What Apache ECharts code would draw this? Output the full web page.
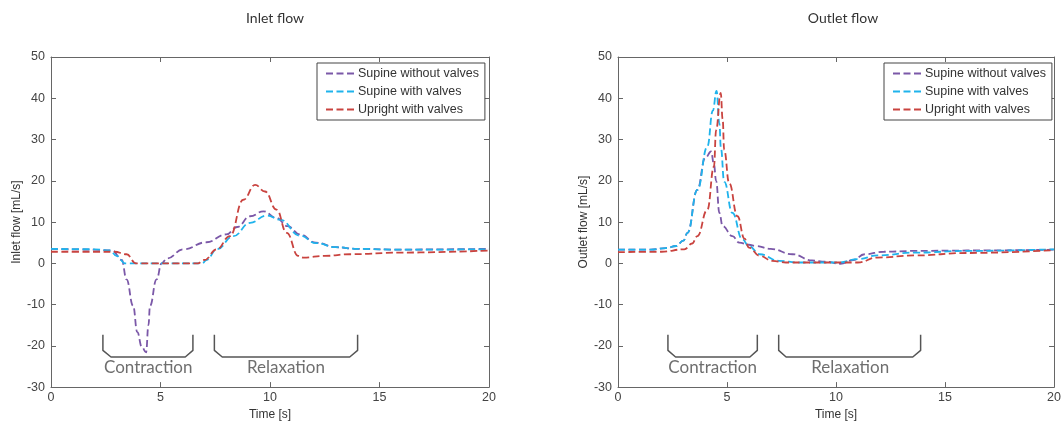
<!DOCTYPE html>
<html><head><meta charset="utf-8">
<script src="https://cdn.jsdelivr.net/npm/echarts@6/dist/echarts.min.js"></script>
<style>html,body{margin:0;padding:0;background:#fff}#c{width:1064px;height:426px}</style>
</head><body><div id="c"></div>
<script>
// ---- data ----
const seriesNames = ['Supine without valves', 'Supine with valves', 'Upright with valves'];
const chartTitles = ['Inlet flow', 'Outlet flow'];
const yAxisNames = ['Inlet flow [mL/s]', 'Outlet flow [mL/s]'];
const xAxisName = 'Time [s]';

// Inlet flow
const inSupineNoValves = [[0,3.5],[1,3.4],[2,3.3],[2.8,3.1],[3.23,0.8],[3.45,-3.9],[3.75,-10.3],[3.94,-16.7],[4.15,-20.3],[4.34,-21.6],[4.45,-15],[4.52,-10.3],[4.82,-3.9],[5.05,0],[5.3,1.2],[6.04,3.4],[7.1,5.1],[8.0,7.0],[8.5,8.8],[9.09,11.4],[9.7,12.6],[10.3,11.0],[10.8,9.0],[11.37,7.0],[12.1,5.0],[13,3.9],[14,3.5],[16,3.3],[18,3.4],[20,3.5]];
const inSupineValves = [[0,3.5],[2,3.4],[2.7,3.1],[3.0,1.8],[3.38,0],[6.9,0],[7.1,0.8],[7.57,3.4],[8.33,6.6],[9.09,9.8],[9.85,11.6],[10.46,10.6],[11.37,6.7],[12.1,4.9],[13,3.9],[14,3.5],[16,3.3],[20,3.4]];
const inUprightValves = [[0,2.8],[2,2.8],[2.9,2.8],[3.45,2.2],[3.88,0],[6.7,0],[7.0,0.8],[7.57,3.4],[8.17,6.6],[8.78,15.4],[9.32,19.0],[9.77,17.4],[10.3,13.0],[10.76,7.4],[11.29,1.8],[11.52,1.4],[12.5,1.8],[13.65,2.2],[16,2.6],[20,3.1]];

// Outlet flow
const outSupineNoValves = [[0,3.3],[1.5,3.3],[2.2,3.7],[2.67,4.2],[3.0,5.5],[3.19,7.4],[3.64,17.8],[4.0,25.5],[4.27,27.1],[4.4,24],[4.5,20],[4.65,12.2],[4.8,9.0],[5.25,6.6],[5.56,5.0],[6.0,4.5],[6.32,4.2],[7.0,3.5],[8.0,2.2],[8.9,0.7],[9.5,0.4],[10.2,-0.1],[10.8,0.8],[11.3,2.2],[12.2,2.8],[13.6,3.0],[16,3.1],[20,3.3]];
const outSupineValves = [[0,3.3],[1.5,3.3],[2.2,3.7],[2.67,4.2],[3.0,5.5],[3.19,7.4],[3.64,17.8],[4.1,28.3],[4.35,37],[4.52,41.8],[4.65,33.9],[4.72,27.9],[4.87,19.8],[5.25,12.2],[5.7,5.8],[6.0,4.2],[6.5,2.2],[7.38,0.6],[8.3,0.2],[10.1,0.2],[11.0,1.0],[11.9,1.9],[13.6,2.6],[16,3.0],[20,3.4]];
const outUprightValves = [[0,2.7],[2,2.8],[3.04,3.4],[3.4,4.8],[3.64,6.6],[4.1,13],[4.4,23.4],[4.5,32.3],[4.71,41.3],[4.8,35],[4.87,27.5],[5.1,19.4],[5.48,11.4],[5.8,6.0],[6.01,3.8],[6.5,1.8],[7.08,0.6],[7.7,0.2],[11.0,0.2],[11.9,1.4],[13.6,1.9],[16,2.5],[20,3.2]];

// Phase brackets (data coordinates)
const inContractionBracket = [[2.37,-17.3],[2.37,-21.1],[2.74,-22.7],[6.13,-22.7],[6.48,-21.1],[6.48,-17.3]];
const inRelaxationBracket = [[7.46,-17.3],[7.46,-21.1],[7.82,-22.7],[13.64,-22.7],[14.0,-21.1],[14.0,-17.3]];
const outContractionBracket = [[2.29,-17.3],[2.29,-21.1],[2.64,-22.7],[6.05,-22.7],[6.39,-21.1],[6.39,-17.3]];
const outRelaxationBracket = [[7.37,-17.3],[7.37,-21.1],[7.71,-22.7],[13.52,-22.7],[13.88,-21.1],[13.88,-17.3]];
const inPhaseLabels = [['Contraction',4.44,-25.3],['Relaxation',10.73,-25.3]];
const outPhaseLabels = [['Contraction',4.34,-25.3],['Relaxation',10.65,-25.3]];

const xTicks = {min:0, max:20, interval:5};
const yTicks = {min:-30, max:50, interval:10};

const colors = ['#7b58a8', '#1fb3ec', '#c9433f'];
const font = '"Liberation Sans", Arial, sans-serif';

// ---- chart ----
const chart = echarts.init(document.getElementById('c'), null, {renderer:'canvas'});

function axisX(gi, pos) {
  const bottom = pos === 'bottom';
  return {
    type:'value', gridIndex:gi, position:pos, min:xTicks.min, max:xTicks.max, interval:xTicks.interval,
    name: bottom ? xAxisName : '', nameLocation:'middle', nameGap:17,
    nameTextStyle:{fontFamily:font, fontSize:12, color:'#333'},
    axisLine:{show:true, onZero:false, lineStyle:{color:'#666', width:1}},
    axisTick:{show:true, inside:true, length:5, lineStyle:{color:'#666'}},
    axisLabel:{show:bottom, fontFamily:font, fontSize:12.5, color:'#444', margin:4},
    splitLine:{show:false}
  };
}
function axisY(gi, pos) {
  const left = pos === 'left';
  return {
    type:'value', gridIndex:gi, position:pos, min:yTicks.min, max:yTicks.max, interval:yTicks.interval,
    name: left ? yAxisNames[gi] : '', nameLocation:'middle', nameGap:28,
    nameTextStyle:{fontFamily:font, fontSize:12, color:'#333'},
    axisLine:{show:true, onZero:false, lineStyle:{color:'#666', width:1}},
    axisTick:{show:true, inside:true, length:5, lineStyle:{color:'#666'}},
    axisLabel:{show:left, fontFamily:font, fontSize:12.5, color:'#444', margin:6},
    splitLine:{show:false}
  };
}

function flowSeries(name, data, ci, axIdx) {
  return {
    name, type:'line', data, xAxisIndex:axIdx*2, yAxisIndex:axIdx*2,
    symbol:'none', showSymbol:false, smooth:0.45, smoothMonotone:'x',
    lineStyle:{color:colors[ci], width:1.8, type:[7,3.5]},
    itemStyle:{color:colors[ci]}, silent:true, z:3
  };
}
function bracketSeries(data, axIdx) {
  return {
    type:'line', data, xAxisIndex:axIdx*2, yAxisIndex:axIdx*2, symbol:'none', silent:true,
    lineStyle:{color:'#555', width:1.5, type:'solid'}, z:2
  };
}
function labelSeries(labels, axIdx) {
  return {
    type:'scatter', xAxisIndex:axIdx*2, yAxisIndex:axIdx*2, symbolSize:1, silent:true,
    itemStyle:{color:'rgba(0,0,0,0)'},
    data: labels.map(l => ({name:l[0], value:[l[1], l[2]]})),
    label:{show:true, position:'inside', formatter:p => p.name,
      fontFamily:'Lato, "Open Sans", sans-serif', fontSize:17, color:'#4a4a4a'}
  };
}

function legendAt(left) {
  return {
    data: seriesNames, orient:'vertical', left:left, top:63,
    backgroundColor:'#fff', borderColor:'#444', borderWidth:1, borderRadius:0,
    padding:[4,6,4,8], itemGap:5, itemWidth:30, itemHeight:12,
    itemStyle:{opacity:0},
    textStyle:{fontFamily:font, fontSize:12.5, color:'#333', padding:[0,0,0,-3]},
    selectedMode:false
  };
}

const option = {
  animation:false,
  backgroundColor:'#fff',
  title:[
    {text:chartTitles[0], left:270, top:6, textAlign:'center', textStyle:{fontFamily:'Lato, sans-serif', fontWeight:'normal', fontSize:14, color:'#333'}},
    {text:chartTitles[1], left:838, top:6, textAlign:'center', textStyle:{fontFamily:'Lato, sans-serif', fontWeight:'normal', fontSize:14, color:'#333'}}
  ],
  grid:[
    {left:51, right:575, top:57, bottom:37},
    {left:618, right:7, top:57, bottom:37}
  ],
  xAxis:[axisX(0,'bottom'), axisX(0,'top'), axisX(1,'bottom'), axisX(1,'top')],
  yAxis:[axisY(0,'left'), axisY(0,'right'), axisY(1,'left'), axisY(1,'right')],
  legend:[legendAt(317), legendAt(884)],
  series:[
    flowSeries(seriesNames[0], inSupineNoValves, 0, 0),
    flowSeries(seriesNames[1], inSupineValves, 1, 0),
    flowSeries(seriesNames[2], inUprightValves, 2, 0),
    flowSeries(seriesNames[0], outSupineNoValves, 0, 1),
    flowSeries(seriesNames[1], outSupineValves, 1, 1),
    flowSeries(seriesNames[2], outUprightValves, 2, 1),
    bracketSeries(inContractionBracket, 0),
    bracketSeries(inRelaxationBracket, 0),
    bracketSeries(outContractionBracket, 1),
    bracketSeries(outRelaxationBracket, 1),
    labelSeries(inPhaseLabels, 0),
    labelSeries(outPhaseLabels, 1)
  ]
};
chart.setOption(option);
</script>
</body></html>
